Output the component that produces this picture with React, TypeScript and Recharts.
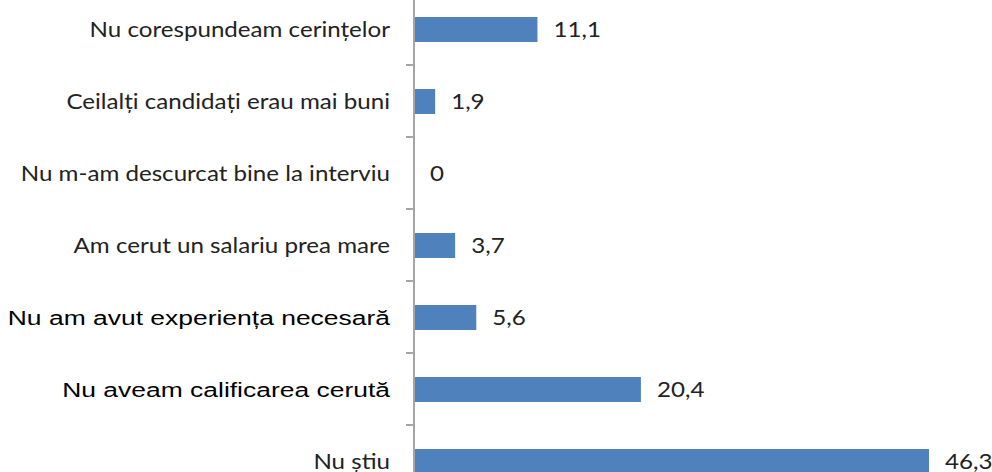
import React from "react"
import { BarChart, Bar, XAxis, YAxis, LabelList } from "recharts"

const categories = [
  "Nu corespundeam cerințelor",
  "Ceilalți candidați erau mai buni",
  "Nu m-am descurcat bine la interviu",
  "Am cerut un salariu prea mare",
  "Nu am avut experiența necesară",
  "Nu aveam calificarea cerută",
  "Nu știu",
]

const values = [11.1, 1.9, 0, 3.7, 5.6, 20.4, 46.3]

// these two labels use a bigger, Arial-like font in the original
const largeLabels = ["Nu am avut experiența necesară", "Nu aveam calificarea cerută"]

const data = categories.map((name, i) => ({ name, value: values[i] }))

const AXIS_GREY = "#A6A6A6"
const SMALL_FONT = "Lato, sans-serif"
const BIG_FONT = "'Liberation Sans', Arial, sans-serif"

function CategoryTick(props: any) {
  const { x, y, payload, index, visibleTicksCount } = props
  const half = payload.offset || 36
  const big = largeLabels.includes(payload.value)
  return (
    <g>
      <line x1={x - 8} x2={x} y1={y - half} y2={y - half} stroke={AXIS_GREY} strokeWidth={2} />
      {index === visibleTicksCount - 1 && (
        <line x1={x - 8} x2={x} y1={y + half} y2={y + half} stroke={AXIS_GREY} strokeWidth={2} />
      )}
      <text
        transform={`translate(${x - 24},${y}) scale(${big ? 1.26 : 1.15},1)`}
        dy="0.36em"
        textAnchor="end"
        fill={big ? "#000" : "#222"}
        fontFamily={big ? BIG_FONT : SMALL_FONT}
        fontSize={21}
      >
        {payload.value}
      </text>
    </g>
  )
}

function ValueLabel(props: any) {
  const { x, y, width, height, value } = props
  // zero-valued bar gets a 1px stub (hidden under the axis), label still sits after the axis
  const end = value === 0 ? x : x + width
  return (
    <text
      transform={`translate(${end + 16},${y + height / 2}) scale(1.15,1)`}
      dy="0.36em"
      fill="#222"
      fontFamily={SMALL_FONT}
      fontSize={21}
    >
      {String(value).replace(".", ",")}
    </text>
  )
}

export default function App() {
  return (
    <div style={{ position: "absolute", top: 0, left: 0, width: 992, height: 472, overflow: "hidden", background: "#fff" }}>
      <div style={{ position: "absolute", top: -20, left: 0 }}>
        <BarChart
          width={992}
          height={530}
          data={data}
          layout="vertical"
          margin={{ top: 13, right: 63, bottom: 13, left: 0 }}
        >
          <XAxis type="number" domain={[0, 46.3]} hide />
          <Bar
            dataKey="value"
            fill="#4F81BD"
            barSize={25}
            minPointSize={(v: number) => (v === 0 ? 1 : 0)}
            isAnimationActive={false}
          >
            <LabelList dataKey="value" content={(p: any) => <ValueLabel {...p} />} />
          </Bar>
          <YAxis
            type="category"
            dataKey="name"
            width={414}
            axisLine={{ stroke: AXIS_GREY, strokeWidth: 2 }}
            tickLine={false}
            tickSize={0}
            tickMargin={0}
            tick={<CategoryTick />}
            interval={0}
          />
        </BarChart>
      </div>
    </div>
  )
}
